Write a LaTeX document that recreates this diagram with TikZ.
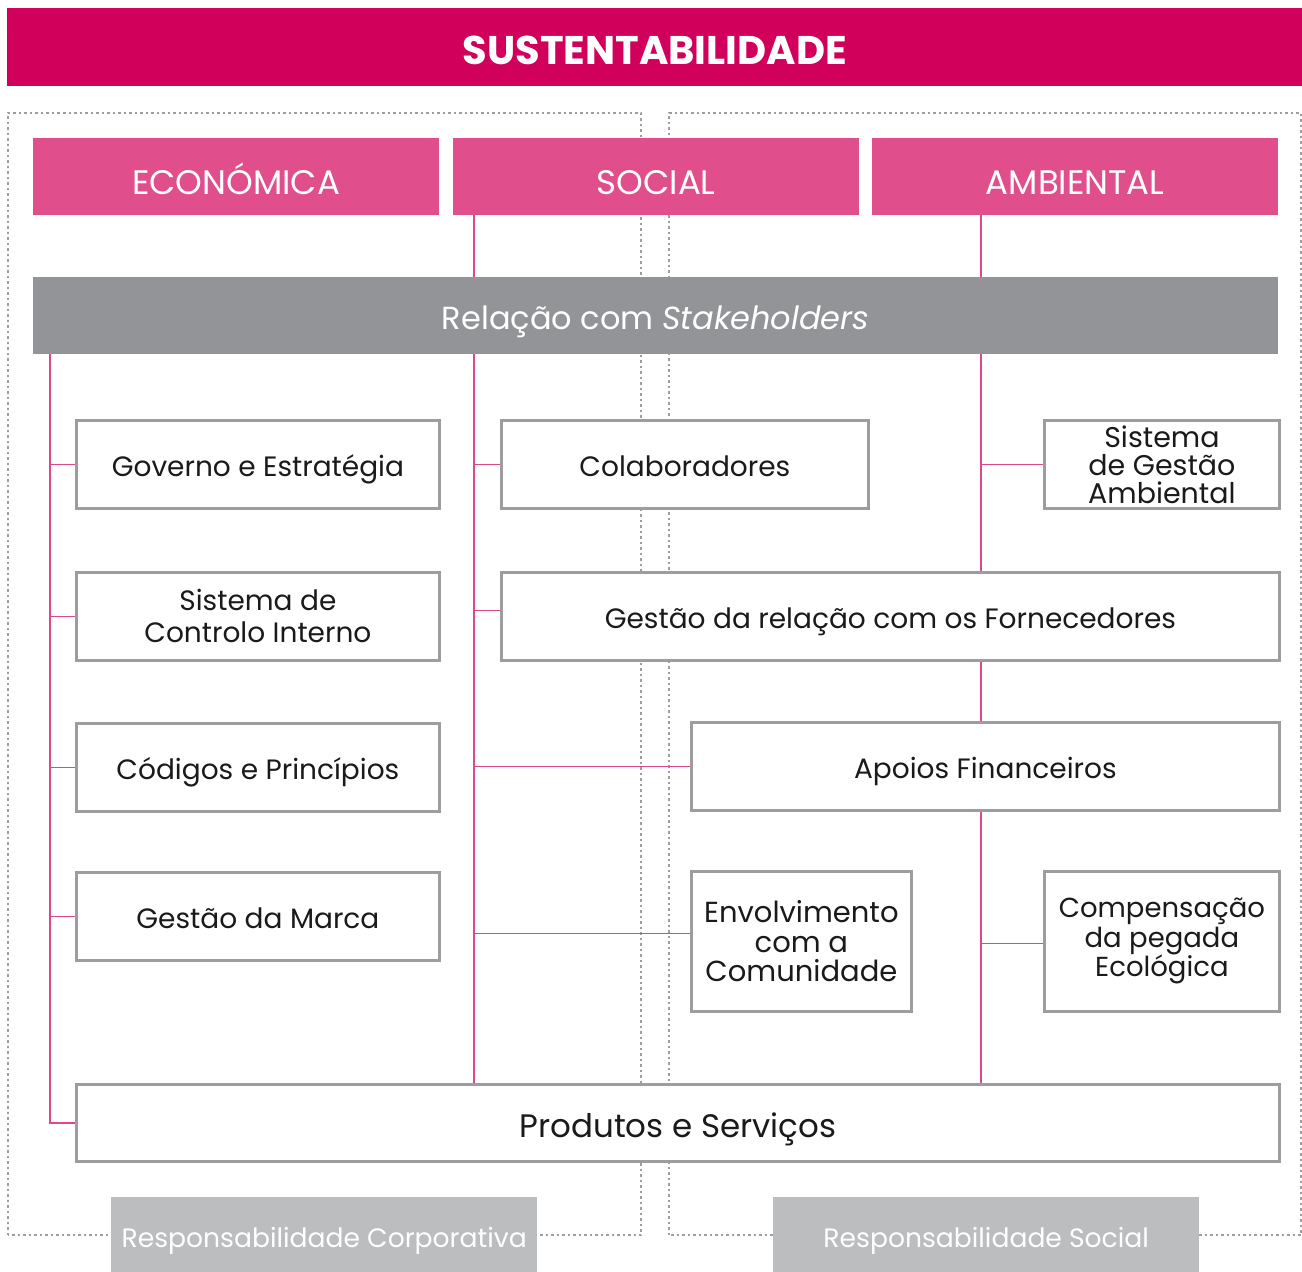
\documentclass[tikz,border=0pt]{standalone}
\usepackage{fontspec}
\setmainfont{Poppins}
\definecolor{topmag}{HTML}{D1005A}
\definecolor{headpink}{HTML}{E04E8C}
\definecolor{linepink}{HTML}{E0468A}
\definecolor{barg}{HTML}{939498}
\definecolor{boxg}{HTML}{9D9D9F}
\definecolor{labg}{HTML}{BCBDBF}
\definecolor{txt}{HTML}{1A1A1A}
\begin{document}
\begin{tikzpicture}[x=1pt,y=-1pt,
  hdr/.style={fill=headpink, text=white, anchor=north west, minimum width=406pt, minimum height=77pt, inner sep=0pt, text height=34.8pt, text depth=0pt, font=\fontsize{34}{36}\selectfont},
  itembox/.style={draw=boxg, line width=2.8pt, fill=white, text=txt, anchor=north west, inner sep=0pt, align=center, font=\fontsize{28}{32}\selectfont},
  oneline/.style={text height=23.6pt, text depth=0pt},
  conn/.style={draw=linepink, line width=1.6pt},
  dotbox/.style={draw=boxg, line width=2pt, dash pattern=on 2.5pt off 3pt},
  lab/.style={fill=labg, text=white, anchor=north west, minimum width=426pt, minimum height=75pt, inner sep=0pt, text height=25.6pt, text depth=0pt, font=\fontsize{26.6}{30}\selectfont}
]
\useasboundingbox (0,0) rectangle (1302,1272);
% dotted boxes
\draw[dotbox] (8,1235) -- (8,113) -- (641,113) -- (641,1235) -- cycle;
\draw[dotbox] (669,1235) -- (669,113) -- (1301,113) -- (1301,1235) -- cycle;
% top bar
\node[fill=topmag, text=white, anchor=north west, minimum width=1295pt, minimum height=78pt, inner sep=0pt, text height=34pt, text depth=0pt, font=\fontsize{40}{42}\selectfont\bfseries] (top) at (7,8) {SUSTENTABILIDADE};
% headers
\node[hdr] (eco) at (33,138) {ECONÓMICA};
\node[hdr] (soc) at (453,138) {SOCIAL};
\node[hdr] (amb) at (872,138) {AMBIENTAL};
% stakeholders bar
\node[fill=barg, text=white, anchor=north west, minimum width=1245pt, minimum height=77pt, inner sep=0pt, text height=27.4pt, text depth=0pt, font=\fontsize{32}{34}\selectfont] (stake) at (33,277) {Relação com \textit{Stakeholders}};
% left boxes
\node[itembox, oneline, minimum width=363pt, minimum height=88pt] (gov) at (75,419) {Governo e Estratégia};
\node[itembox, minimum width=363pt, minimum height=88pt] (sci) at (75,571) {Sistema de\\Controlo Interno};
\node[itembox, oneline, minimum width=363pt, minimum height=88pt] (cod) at (75,722) {Códigos e Princípios};
\node[itembox, oneline, minimum width=363pt, minimum height=88pt] (marca) at (75,871) {Gestão da Marca};
% middle / right boxes
\node[itembox, oneline, minimum width=367pt, minimum height=88pt] (colab) at (500,419) {Colaboradores};
\node[itembox, oneline, minimum width=778pt, minimum height=88pt] (forn) at (500,571) {Gestão da relação com os Fornecedores};
\node[itembox, oneline, minimum width=588pt, minimum height=88pt] (apo) at (690,721) {Apoios Financeiros};
\node[itembox, minimum width=220pt, minimum height=140pt, font=\fontsize{29}{29.5}\selectfont] (env) at (690,870) {Envolvimento\\com a\\Comunidade};
\node[itembox, minimum width=235pt, minimum height=88pt, font=\fontsize{28.5}{28}\selectfont] (sga) at (1043,419) {Sistema\\de Gestão\\Ambiental};
\node[itembox, minimum width=235pt, minimum height=140pt, font=\fontsize{27.5}{29.5}\selectfont] (comp) at (1043,870) {Compensação\\da pegada\\Ecológica};
\node[itembox, minimum width=1203pt, minimum height=77pt, text height=29.8pt, text depth=0pt, font=\fontsize{32.5}{34}\selectfont] (prod) at (75,1083) {Produtos e Serviços};
% bottom labels
\node[lab] (rc) at (111,1197) {Responsabilidade Corporativa};
\node[lab] (rs) at (773,1197) {Responsabilidade Social};
% connector spines
\coordinate (L0) at (50,354);
\coordinate (M0) at (474,215);
\coordinate (R0) at (981,215);
% left spine
\draw[conn] (L0) |- (prod.west);
\draw[conn] (gov.west) -- (gov.west -| L0);
\draw[conn] (sci.west) -- (sci.west -| L0);
\draw[conn] (cod.west) -- (cod.west -| L0);
\draw[conn] (marca.west) -- (marca.west -| L0);
% middle spine
\draw[conn] (M0) -- (M0 |- stake.north);
\draw[conn] (M0 |- stake.south) -- (M0 |- prod.north);
\draw[conn] (colab.west) -- (colab.west -| M0);
\draw[conn] ([yshift=6pt]forn.west) -- ([yshift=6pt]forn.west -| M0);
\draw[conn] (apo.west) -- (apo.west -| M0);
\draw[conn] ([yshift=8pt]env.west) -- ([yshift=8pt]env.west -| M0);
% right spine
\draw[conn] (R0) -- (R0 |- stake.north);
\draw[conn] (R0 |- stake.south) -- (R0 |- forn.north);
\draw[conn] (R0 |- forn.south) -- (R0 |- apo.north);
\draw[conn] (R0 |- apo.south) -- (R0 |- prod.north);
\draw[conn] (sga.west) -- (sga.west -| R0);
\draw[conn] ([yshift=-2pt]comp.west) -- ([yshift=-2pt]comp.west -| R0);
\end{tikzpicture}
\end{document}
